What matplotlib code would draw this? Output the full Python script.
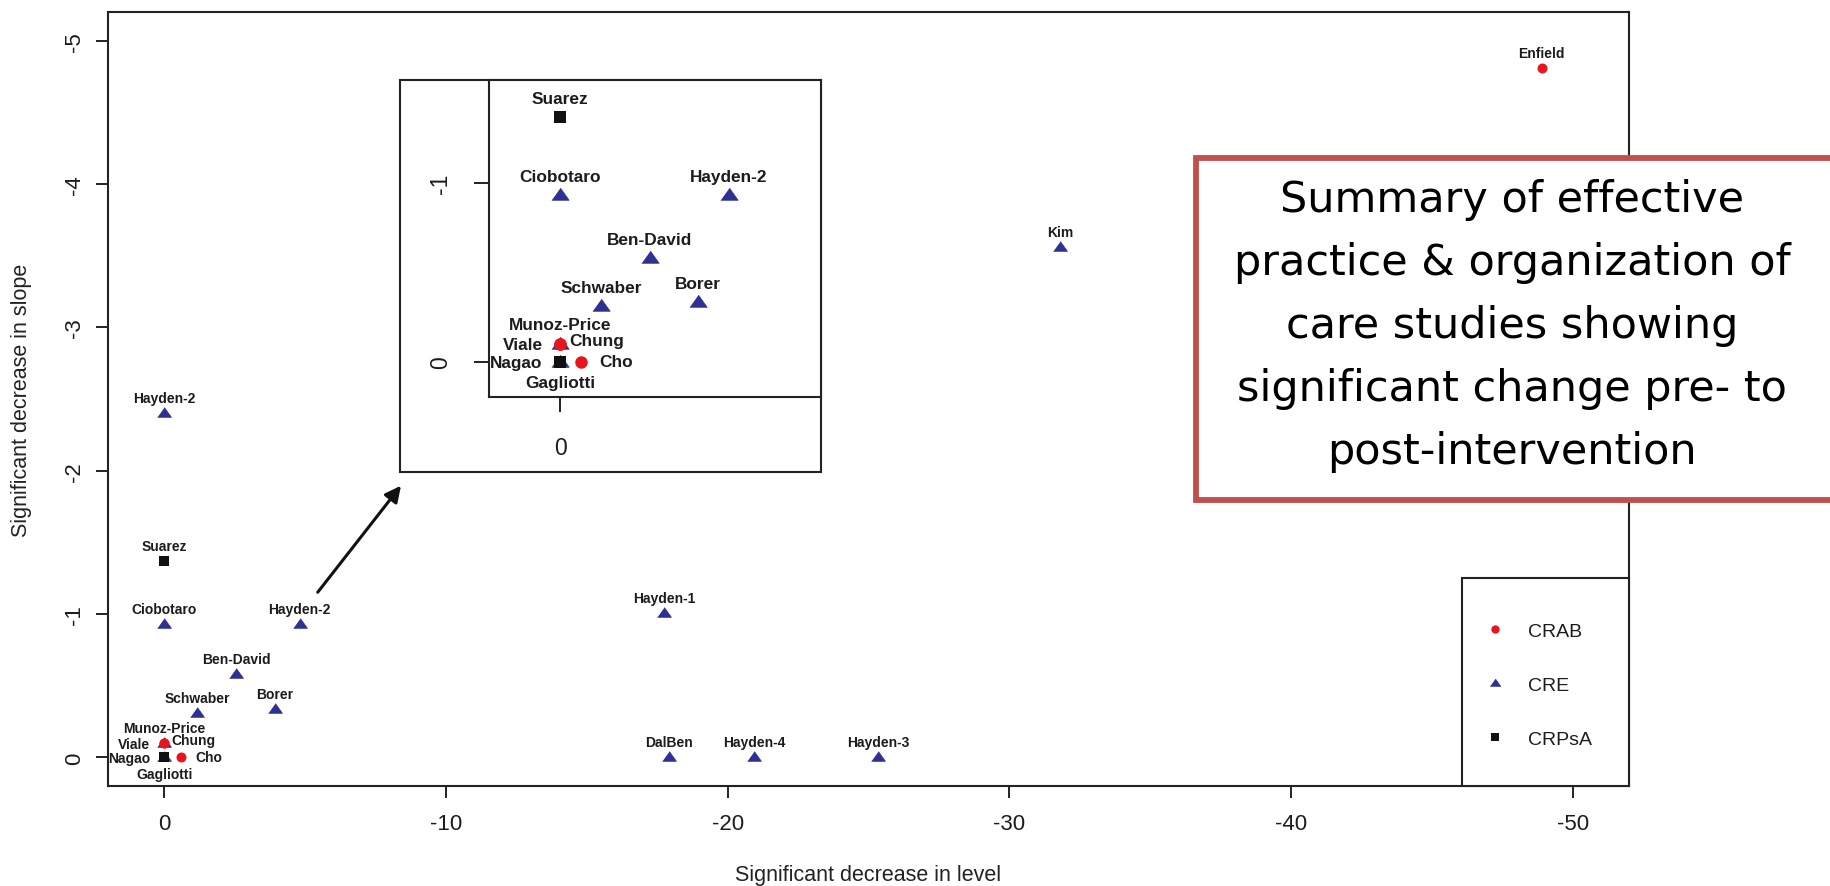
import matplotlib
matplotlib.use("Agg")
import matplotlib.pyplot as plt
from matplotlib.patches import Rectangle, FancyArrowPatch
from matplotlib.lines import Line2D

plt.rcParams["font.family"] = ["Liberation Sans", "DejaVu Sans"]
plt.rcParams["axes.unicode_minus"] = False

# ---- study data: significant decrease in level (x) and in slope (y) ----
cre_names = ["Hayden-2", "Ciobotaro", "Hayden-2", "Ben-David", "Schwaber", "Borer",
             "Munoz-Price", "Gagliotti", "Hayden-1", "DalBen", "Hayden-4", "Hayden-3", "Kim"]
cre_level = [0, 0, -4.8, -2.55, -1.17, -3.93, 0, 0, -17.75, -17.9, -20.95, -25.35, -31.8]
cre_slope = [-2.40, -0.93, -0.93, -0.58, -0.31, -0.335, -0.10, 0, -1.01, 0, 0, 0, -3.56]

crab_names = ["Viale", "Chung", "Cho", "Enfield"]
crab_level = [0, 0, -0.6, -48.9]
crab_slope = [-0.10, -0.10, 0, -4.81]

crpsa_names = ["Suarez", "Nagao"]
crpsa_level = [0, 0]
crpsa_slope = [-1.37, 0]

group_names = ["CRAB", "CRE", "CRPsA"]

x_ticks = [0, -10, -20, -30, -40, -50]
y_ticks = [0, -1, -2, -3, -4, -5]
inset_x_ticks = [0]
inset_y_ticks = [0, -1]

x_label = "Significant decrease in level"
y_label = "Significant decrease in slope"
box_text = ("Summary of effective\npractice & organization of\ncare studies showing\n"
            "significant change pre- to\npost-intervention")

# label placement around each point
cre_pos = ["above"] * 7 + ["below"] + ["above"] * 5
crab_pos = ["left", "right_close", "right", "above"]
crpsa_pos = ["above", "left"]

# ---- styling ----
W, H = 1831, 887
BLUE = "#2E3192"
RED = "#E8151C"
BLACK = "#111111"
LINE = "#222222"
TXT = "#1c1c1c"

# offsets in pixels for each placement code (main plot scale)
OFFS = {"above": (0, 15), "below": (0, -16.5), "left": (-14, -1),
        "right": (14, 0), "right_close": (7, 2.5)}
HA = {"above": "center", "below": "center", "left": "right",
      "right": "left", "right_close": "left"}

TRI = [(-1, -0.55), (1, -0.55), (0, 0.85)]


def fx(px):
    return px / W


def fy(py):
    return 1 - py / H


fig = plt.figure(figsize=(W / 100, H / 100), dpi=100)
fig.patch.set_facecolor("white")


def draw_points(ax, scale, label_size):
    ms_tri, ms_sq, ms_dot = 10.0 * scale, 6.8 * scale, 7.2 * scale
    ax.plot(cre_level, cre_slope, linestyle="none", marker=TRI, ms=ms_tri,
            mfc=BLUE, mec=BLUE, mew=0.5, zorder=3)
    ax.plot(crab_level, crab_slope, linestyle="none", marker="o", ms=ms_dot,
            mfc=RED, mec=RED, mew=0, zorder=4)
    ax.plot(crpsa_level, crpsa_slope, linestyle="none", marker="s", ms=ms_sq,
            mfc=BLACK, mec=BLACK, mew=0, zorder=5)
    for names, xs, ys, poss in ((cre_names, cre_level, cre_slope, cre_pos),
                                (crab_names, crab_level, crab_slope, crab_pos),
                                (crpsa_names, crpsa_level, crpsa_slope, crpsa_pos)):
        for n, x, y, p in zip(names, xs, ys, poss):
            dx, dy = OFFS[p]
            ax.annotate(n, (x, y), xytext=(dx * 0.72 * scale, dy * 0.72 * scale),
                        textcoords="offset points", ha=HA[p], va="center",
                        fontsize=label_size, fontweight="bold", color=TXT,
                        zorder=6)


def style_spines(ax):
    for s in ax.spines.values():
        s.set_linewidth(1.5)
        s.set_color(LINE)


# ---- main axes ----
ax = fig.add_axes([fx(108), fy(787), fx(1629 - 108), (787 - 13) / H])
ax.set_xlim(2, -52)
ax.set_ylim(0.2, -5.2)
style_spines(ax)
draw_points(ax, 1.0, 10.0)

ax.set_xticks(x_ticks)
ax.set_xticklabels([str(v) for v in x_ticks])
ax.set_yticks(y_ticks)
ax.set_yticklabels([str(v) for v in y_ticks], rotation=90, va="center")
ax.tick_params(axis="both", direction="out", length=8.8, width=1.4,
               color=LINE, labelsize=16, labelcolor=TXT)
ax.tick_params(axis="x", pad=11)
ax.tick_params(axis="y", pad=8)

ax.set_xlabel(x_label, fontsize=15.5, color="#222222")
ax.xaxis.set_label_coords(0.5, (H - 876 - (H - 787)) / (787 - 13))
ax.xaxis.label.set_va("center")
ax.set_ylabel(y_label, fontsize=15.5, color="#222222")
ax.yaxis.set_label_coords((22 - 108) / (1629 - 108), 0.5)
ax.yaxis.label.set_va("center")

# legend in the lower right corner
ax.add_patch(Rectangle((fx(1462), fy(787)), fx(1629 - 1462), (787 - 579) / H,
                       transform=fig.transFigure, fc="white", ec=LINE, lw=1.5,
                       clip_on=False, zorder=4))
handles = [Line2D([], [], linestyle="none", marker="o", ms=6.0, mfc=RED, mec=RED, mew=0),
           Line2D([], [], linestyle="none", marker=TRI, ms=7.8, mfc=BLUE, mec=BLUE, mew=0.4),
           Line2D([], [], linestyle="none", marker="s", ms=6.3, mfc=BLACK, mec=BLACK, mew=0)]
leg = ax.legend(handles, group_names, loc="center left",
                bbox_to_anchor=(fx(1485), fy(686)), bbox_transform=fig.transFigure,
                frameon=False, fontsize=14, handlelength=1.0, handletextpad=1.2,
                labelspacing=1.86, borderpad=0, borderaxespad=0)
for t in leg.get_texts():
    t.set_color(TXT)
leg.set_zorder(5)

# ---- zoomed inset of the cluster near the origin ----
fig.add_artist(Rectangle((fx(400), fy(473)), fx(821 - 400), (473 - 81) / H,
                         transform=fig.transFigure, fc="white", ec=LINE, lw=1.5,
                         zorder=1))
axi = fig.add_axes([fx(489), fy(398), fx(821 - 489), (398 - 81) / H], zorder=2)
axi.set_xlim(2.03, -7.43)
axi.set_ylim(0.198, -1.576)
style_spines(axi)
draw_points(axi, 1.25, 12.4)
axi.set_xticks(inset_x_ticks)
axi.set_xticklabels([str(v) for v in inset_x_ticks])
axi.set_yticks(inset_y_ticks)
axi.set_yticklabels([str(v) for v in inset_y_ticks], rotation=90, va="center")
axi.tick_params(axis="both", direction="out", length=10.8, width=1.4,
                color=LINE, labelsize=16.5, labelcolor=TXT)
axi.tick_params(axis="x", pad=17)
axi.tick_params(axis="y", pad=16)

fig.add_artist(FancyArrowPatch((fx(317.7), fy(593.3)), (fx(401), fy(486.7)),
                               transform=fig.transFigure, arrowstyle="-|>",
                               mutation_scale=24, lw=2.2, color=BLACK,
                               shrinkA=0, shrinkB=0, zorder=3))

# ---- summary box ----
fig.add_artist(Rectangle((fx(1196), fy(501)), fx(1860 - 1196), (501 - 159) / H,
                         transform=fig.transFigure, fc="white", ec="#C0504D", lw=4.2,
                         zorder=4))
fig.text(fx(1512), fy(326), box_text, ha="center", va="center", ma="center",
         fontsize=31, family="DejaVu Sans", linespacing=1.63, color="black", zorder=5)

fig.savefig("out.png", dpi=100, facecolor="white")
